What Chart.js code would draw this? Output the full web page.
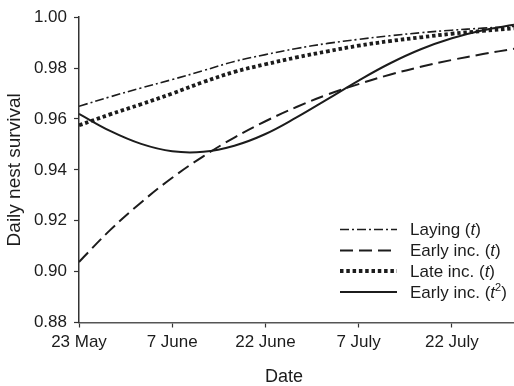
<!DOCTYPE html>
<html><head><meta charset="utf-8">
<script src="https://cdn.jsdelivr.net/npm/chart.js@4"></script>
<style>html,body{margin:0;padding:0;background:#fff}#wrap{width:514px;height:386px}</style>
</head><body><div id="wrap"><canvas id="c" width="514" height="386"></canvas></div>
<script>
// Days after 23 May
const days = [0, 5, 10, 15, 20, 25, 30, 35, 40, 45, 50, 55, 60, 65, 70];
const laying = [0.9650, 0.9687, 0.9722, 0.9755, 0.9790, 0.9826, 0.9853, 0.9877, 0.9897, 0.9913, 0.9927, 0.9939, 0.9949, 0.9957, 0.9964];
const earlyInc = [0.9038, 0.9163, 0.9272, 0.9369, 0.9453, 0.9527, 0.9591, 0.9647, 0.9696, 0.9737, 0.9774, 0.9805, 0.9832, 0.9855, 0.9876];
const lateInc = [0.9575, 0.9618, 0.9658, 0.9700, 0.9745, 0.9785, 0.9815, 0.9842, 0.9866, 0.9888, 0.9906, 0.9921, 0.9935, 0.9946, 0.9956];
const earlyIncQuad = [0.9620, 0.9553, 0.9502, 0.9473, 0.9471, 0.9495, 0.9541, 0.9606, 0.9678, 0.9751, 0.9818, 0.9874, 0.9917, 0.9949, 0.9970];
const tickDays = [0, 15, 30, 45, 60];
const tickLabels = ['23 May', '7 June', '22 June', '7 July', '22 July'];
const yTicks = [0.88, 0.90, 0.92, 0.94, 0.96, 0.98, 1.00];
const seriesNames = ['Laying', 'Early inc.', 'Late inc.', 'Early inc.'];
const seriesTerms = ['t', 't', 't', 't2'];
const xTitle = 'Date';
const yTitle = 'Daily nest survival';

const FONT = "'Liberation Sans', Arial, Helvetica, sans-serif";
const INK = '#1c1c1c';
Chart.defaults.font.family = FONT;
Chart.defaults.color = INK;

const styles = [
  {dash: [9, 3, 2, 3], width: 1.6},
  {dash: [13, 6], width: 2},
  {dash: [3.5, 2.8], width: 3.8},
  {dash: [], width: 2}
];
const series = [laying, earlyInc, lateInc, earlyIncQuad];

const datasets = series.map((vals, i) => ({
  label: seriesNames[i] + ' (' + seriesTerms[i] + ')',
  data: days.map((d, j) => ({x: d, y: vals[j]})),
  borderColor: INK,
  borderWidth: styles[i].width,
  borderDash: styles[i].dash,
  borderCapStyle: 'butt',
  pointRadius: 0,
  tension: 0.4,
  fill: false
}));

const legendPlugin = {
  id: 'customLegend',
  afterDraw(chart) {
    const ctx = chart.ctx;
    const x0 = 340, x1 = 397, tx = 410;
    const baselines = [235, 256, 276.5, 297.5];
    ctx.save();
    series.forEach((_, i) => {
      const by = baselines[i];
      const ly = by - 5.5;
      ctx.beginPath();
      ctx.strokeStyle = INK;
      ctx.lineWidth = styles[i].width;
      ctx.setLineDash(styles[i].dash);
      ctx.lineCap = 'butt';
      ctx.moveTo(x0, ly);
      ctx.lineTo(x1, ly);
      ctx.stroke();
      ctx.setLineDash([]);
      ctx.fillStyle = INK;
      ctx.textBaseline = 'alphabetic';
      ctx.textAlign = 'left';
      let x = tx;
      const normal = '17px ' + FONT;
      const ital = 'italic 17px ' + FONT;
      ctx.font = normal;
      const a = seriesNames[i] + ' (';
      ctx.fillText(a, x, by); x += ctx.measureText(a).width;
      ctx.font = ital;
      ctx.fillText('t', x, by); x += ctx.measureText('t').width;
      if (seriesTerms[i] === 't2') {
        ctx.font = '11px ' + FONT;
        ctx.fillText('2', x, by - 7); x += ctx.measureText('2').width;
      }
      ctx.font = normal;
      ctx.fillText(')', x, by);
    });
    // x-axis title (placed as in the original figure)
    ctx.font = '18px ' + FONT;
    ctx.textAlign = 'center';
    ctx.textBaseline = 'alphabetic';
    ctx.fillText(xTitle, 284, 381.5);
    ctx.restore();
  }
};

new Chart(document.getElementById('c'), {
  type: 'line',
  data: {datasets},
  plugins: [legendPlugin],
  options: {
    responsive: false,
    animation: false,
    devicePixelRatio: 1,
    layout: {padding: {top: 15, right: 0, bottom: 0, left: 0}},
    plugins: {legend: {display: false}, tooltip: {enabled: false}},
    scales: {
      x: {
        type: 'linear', min: 0, max: 70,
        afterBuildTicks: s => { s.ticks = tickDays.map(v => ({value: v})); },
        afterFit: s => { s.height = 63.5; },
        ticks: {
          autoSkip: false, maxRotation: 0, padding: 5,
          font: {size: 17},
          callback: v => tickLabels[tickDays.indexOf(v)]
        },
        grid: {display: true, drawOnChartArea: false, tickLength: 5, color: '#333', tickWidth: 1.2},
        border: {display: true, color: '#555', width: 1.5},
        title: {display: false, text: xTitle}
      },
      y: {
        min: 0.88, max: 1.0,
        afterBuildTicks: s => { s.ticks = yTicks.map(v => ({value: v})); },
        afterFit: s => { s.width = 79; },
        ticks: {
          padding: 7, font: {size: 17},
          callback: v => v.toFixed(2)
        },
        grid: {display: true, drawOnChartArea: false, tickLength: 5, color: '#333', tickWidth: 1.2},
        border: {display: true, color: '#333', width: 1.5},
        title: {display: true, text: yTitle, font: {size: 19}, padding: {top: 3, bottom: 0}}
      }
    }
  }
});
</script>
</body></html>
